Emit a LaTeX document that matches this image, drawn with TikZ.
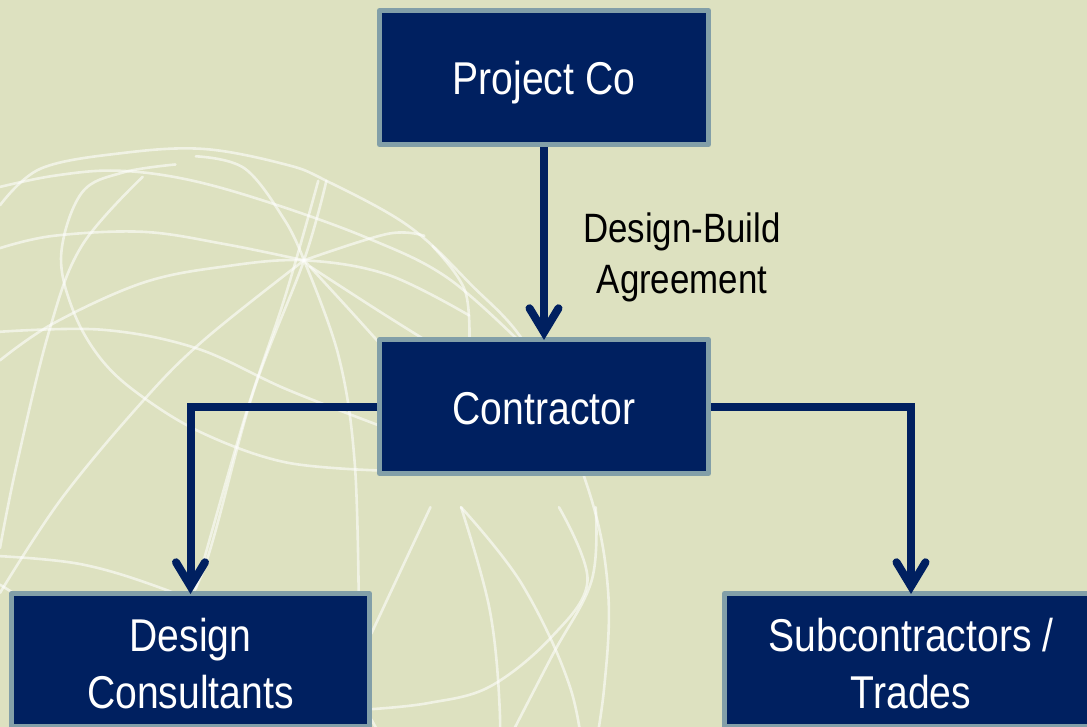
\documentclass[tikz,border=0pt]{standalone}
\usepackage{fontspec}
\setmainfont[FakeStretch=0.85]{Liberation Sans}
\usetikzlibrary{arrows.meta}
\definecolor{bgc}{HTML}{DDE1C0}
\definecolor{navy}{HTML}{002060}
\definecolor{edgec}{HTML}{829FA8}
\tikzset{
  box/.style={draw=edgec,fill=navy,line width=5pt,line join=round,text=white,align=center,
    minimum height=134pt,inner sep=0pt,font=\fontsize{46}{57}\selectfont},
  midbox/.style={box,minimum width=329pt},
  lowbox/.style={box,minimum height=133pt},
  conn/.style={draw=navy,line width=8pt,shorten >=-3pt,-{Straight Barb[length=24pt,width=29pt,line width=8pt,line cap=round,line join=miter]}},
  glob/.style={draw=white,opacity=.58,line width=2.6pt,line cap=round,line join=round},
  label/.style={align=center,inner sep=0pt,text=black,font=\fontsize{41}{51}\selectfont}
}
\newcommand\gl[1]{\draw[glob] plot[smooth,tension=.6] coordinates {#1};}
\newcommand\dn[2]{\raisebox{-#1pt}[\height][\depth]{#2}}
\begin{document}
\begin{tikzpicture}[x=1pt,y=-1pt]
\path[fill=bgc] (0,0) rectangle (1087,727);
\useasboundingbox (0,0) rectangle (1087,727);
\clip (0,0) rectangle (1087,727);
\begin{scope}[shift={(0,140)},x=.408pt,y=-.408pt]
\gl{(0,160)(100,70)(300,32)(500,22)(700,60)(800,100)(1000,210)(1150,350)(1300,520)(1440,850)(1490,1100)(1480,1350)(1440,1600)}
\gl{(0,115)(130,88)(280,75)(450,95)(650,150)(900,240)(1100,340)(1300,520)}
\gl{(430,60)(300,80)(200,130)(150,280)(180,420)(250,540)(350,630)(500,720)(700,790)(930,810)}
\gl{(0,265)(130,235)(350,225)(550,255)(745,295)}
\gl{(0,540)(130,450)(350,350)(550,310)(745,295)(950,330)(1150,430)}
\gl{(0,470)(250,465)(480,510)(700,610)(930,700)}
\gl{(745,295)(500,490)(350,640)(150,880)(0,1110)}
\gl{(800,100)(745,295)(620,620)(500,1050)(410,1200)}
\gl{(780,100)(700,380)(600,680)(480,1100)}
\gl{(745,295)(830,530)(870,800)(880,1200)}
\gl{(750,300)(860,420)(950,520)}
\gl{(760,310)(930,420)(1090,520)}
\gl{(350,90)(200,260)(120,470)(40,800)(0,1000)}
\gl{(0,1020)(200,1040)(400,1100)(640,1200)}
\gl{(0,1090)(180,1200)}
\gl{(1040,235)(950,230)(745,295)}
\gl{(1060,260)(1140,370)(1150,520)}
\gl{(480,40)(600,70)(700,200)(745,295)}
\gl{(1055,900)(980,1060)(910,1210)}
\gl{(1130,900)(1200,1150)(1225,1400)(1220,1600)}
\gl{(1130,900)(1280,1090)(1400,1350)(1440,1600)}
\gl{(1370,900)(1440,1080)(1350,1220)(1200,1340)(1050,1380)(910,1395)}
\gl{(1460,900)(1450,1080)(1350,1270)(1200,1560)}
\gl{(910,1420)(1010,1600)}
\end{scope}
\node[midbox] (project) at (544,77.5) {\dn{5}{Project Co}};
\node[midbox] (contractor) at (544,406.5) {\dn{2}{Contractor}};
\node[lowbox,minimum width=358pt] (design) at (190.5,660) {\dn{4}{Design}\\\dn{4}{Consultants}};
\node[lowbox,minimum width=373pt] (subs) at (911,660) {\dn{4}{Subcontractors /}\\\dn{4}{Trades}};
\node[label] (dba) at (682,257) {Design-Build\\Agreement};
\draw[conn] (project.south) -- (contractor.north);
\draw[conn] (contractor.west) -| (design.north);
\draw[conn] (contractor.east) -| (subs.north);
\end{tikzpicture}
\end{document}
